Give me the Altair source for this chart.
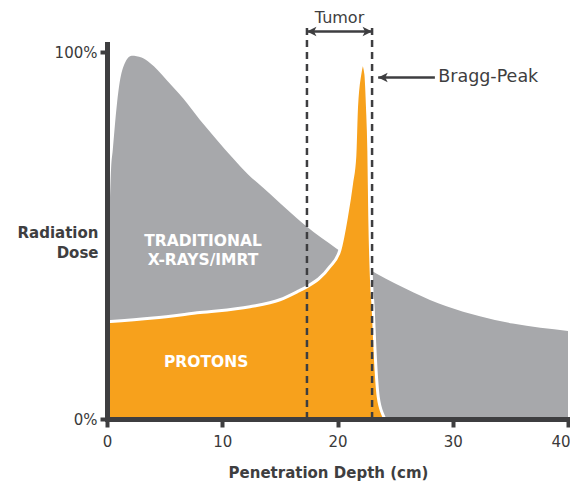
import altair as alt
import pandas as pd

# ---- data ----
gray_x = [0, 0.1, 0.26, 0.35, 0.5, 0.7, 1.0, 1.42, 2.14, 3.0, 3.73, 5.17, 6.6, 8.07,
          9.5, 10.95, 12.2, 13.55, 16.45, 17.3, 19.9, 23.4, 26.6, 29.45, 32.35, 35.2, 40]
gray_y = [0.42, 0.5, 0.6, 0.68, 0.733, 0.806, 0.896, 0.96, 0.99, 0.985, 0.97, 0.924,
          0.874, 0.815, 0.762, 0.71, 0.668, 0.63, 0.548, 0.525, 0.465, 0.396, 0.345,
          0.307, 0.28, 0.26, 0.24]

proton_x = [0, 4, 8.07, 12.4, 15, 16.7, 17.32, 19.34, 20.2, 20.78, 21.22, 21.5, 21.65,
            21.94, 22.2, 22.46, 22.6, 22.72, 22.8, 22.96, 23.1, 23.24, 23.53, 23.96, 24.1]
proton_y = [0.265, 0.275, 0.29, 0.306, 0.325, 0.35, 0.36, 0.415, 0.46, 0.551, 0.642,
            0.715, 0.85, 0.94, 0.97, 0.94, 0.85, 0.73, 0.551, 0.37, 0.3, 0.197, 0.061,
            0.01, 0.0]

x_ticks = [0, 10, 20, 30, 40]
y_ticks = [0, 1]

tumor_start, tumor_end = 17.35, 23.0
tumor_top = 1.075
tumor_arrow_y = 1.056
bragg_tip_x, bragg_tail_x, bragg_y = 23.53, 28.45, 0.931

label_text = ["TRADITIONAL", "X-RAYS/IMRT", "PROTONS"]
label_x = [8.33, 8.33, 8.6]
label_y = [0.485, 0.432, 0.155]

GRAY = "#a7a8ab"
ORANGE = "#f7a11c"
DARK = "#3e3e40"
FONT = "DejaVu Sans"

gray_df = pd.DataFrame({"x": gray_x, "y": gray_y})
proton_df = pd.DataFrame({"x": proton_x, "y": proton_y})

xs = alt.Scale(domain=[0, 40], nice=False, zero=False)
ys = alt.Scale(domain=[0, 1.022], nice=False)

x_axis = alt.Axis(values=x_ticks, title="Penetration Depth (cm)", grid=False,
                  domainColor=DARK, domainWidth=5, domainCap="square",
                  tickColor=DARK, tickWidth=4, tickSize=8, labelColor="#3a3a3a",
                  labelFontSize=15, labelPadding=7, labelFont=FONT, labelFlush=False,
                  labelAlign=alt.condition("datum.value == 40", alt.value("right"),
                                           alt.value("center")),
                  labelOffset=alt.condition("datum.value == 40", alt.value(2),
                                            alt.value(0)),
                  titleFont=FONT, titleFontSize=15, titleFontWeight="bold",
                  titleColor=DARK, titleBaseline="top", titleX=221, titleY=46,
                  zindex=2)
y_axis = alt.Axis(values=y_ticks, format=".0%", title=["Radiation", "Dose"], grid=False,
                  domainColor=DARK, domainWidth=5, domainCap="square",
                  tickColor=DARK, tickWidth=4, tickSize=7, labelColor="#3a3a3a",
                  labelFontSize=15, labelPadding=3, labelFont=FONT, labelFlush=False,
                  titleFont=FONT, titleFontSize=15, titleFontWeight="bold",
                  titleColor=DARK, titleAngle=0, titleAlign="right",
                  titleBaseline="top", titleX=-9, titleY=181, titleLineHeight=20,
                  zindex=2)

gray = alt.Chart(gray_df).mark_area(color=GRAY, interpolate="monotone").encode(
    x=alt.X("x:Q", scale=xs, axis=x_axis),
    y=alt.Y("y:Q", scale=ys, axis=y_axis),
)
proton = alt.Chart(proton_df).mark_area(color=ORANGE, interpolate="monotone").encode(
    x=alt.X("x:Q", scale=xs), y=alt.Y("y:Q", scale=ys)
)
outline = alt.Chart(proton_df).mark_line(color="white", strokeWidth=3,
                                          interpolate="monotone").encode(
    x=alt.X("x:Q", scale=xs), y=alt.Y("y:Q", scale=ys)
)

tumor_df = pd.DataFrame({"x": [tumor_start, tumor_end], "y0": [0, 0],
                         "y1": [tumor_top, tumor_top]})
dashed = alt.Chart(tumor_df).mark_rule(color=DARK, strokeWidth=2.5,
                                        strokeDash=[7, 5]).encode(
    x=alt.X("x:Q", scale=xs), y=alt.Y("y0:Q", scale=ys), y2="y1:Q"
)

arrow_df = pd.DataFrame({"x": [tumor_start, bragg_tip_x], "x2": [tumor_end, bragg_tail_x],
                         "y": [tumor_arrow_y, bragg_y]})
arrow_lines = alt.Chart(arrow_df).mark_rule(color=DARK, strokeWidth=2.5).encode(
    x=alt.X("x:Q", scale=xs), x2="x2:Q", y=alt.Y("y:Q", scale=ys)
)
left_heads = pd.DataFrame({"x": [tumor_start, bragg_tip_x], "y": [tumor_arrow_y, bragg_y]})
right_heads = pd.DataFrame({"x": [tumor_end], "y": [tumor_arrow_y]})
lh = alt.Chart(left_heads).mark_point(shape="M0,0L2,-1L1.5,0L2,1Z", filled=True,
                                      color=DARK, size=90, opacity=1).encode(
    x=alt.X("x:Q", scale=xs), y=alt.Y("y:Q", scale=ys)
)
rh = alt.Chart(right_heads).mark_point(shape="M0,0L-2,-1L-1.5,0L-2,1Z", filled=True,
                                       color=DARK, size=90, opacity=1).encode(
    x=alt.X("x:Q", scale=xs), y=alt.Y("y:Q", scale=ys)
)

tumor_txt = alt.Chart(pd.DataFrame({"x": [(tumor_start + tumor_end) / 2], "y": [1.093],
                                    "t": ["Tumor"]})).mark_text(
    font=FONT, fontSize=16, color=DARK, baseline="middle").encode(
    x=alt.X("x:Q", scale=xs), y=alt.Y("y:Q", scale=ys), text="t:N"
)
bragg_txt = alt.Chart(pd.DataFrame({"x": [28.74], "y": [bragg_y], "t": ["Bragg-Peak"]})).mark_text(
    font=FONT, fontSize=17.5, color=DARK, baseline="middle", align="left").encode(
    x=alt.X("x:Q", scale=xs), y=alt.Y("y:Q", scale=ys), text="t:N"
)
inner_txt = alt.Chart(pd.DataFrame({"x": label_x, "y": label_y, "t": label_text})).mark_text(
    font=FONT, fontSize=15.5, fontWeight="bold", color="white", baseline="middle").encode(
    x=alt.X("x:Q", scale=xs), y=alt.Y("y:Q", scale=ys), text="t:N"
)

chart = alt.layer(gray, proton, outline, dashed, arrow_lines, lh, rh,
                  tumor_txt, bragg_txt, inner_txt).properties(
    width=461, height=375,
    autosize=alt.AutoSizeParams(type="none"),
    padding={"left": 99, "top": 36, "right": 2, "bottom": 62},
).configure_view(stroke=None)

chart.save("out.html", embed_options={"renderer": "svg", "actions": False})
